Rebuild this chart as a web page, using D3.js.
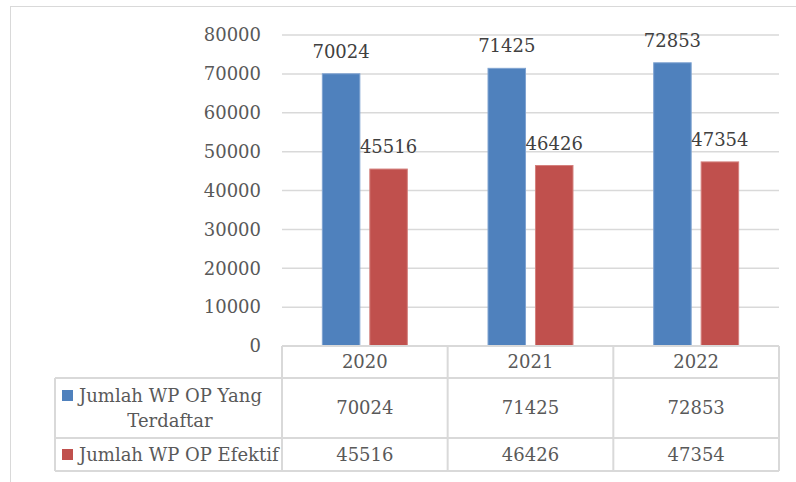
<!DOCTYPE html>
<html>
<head>
<meta charset="utf-8">
<script src="https://d3js.org/d3.v7.min.js"></script>
<style>
  body { margin: 0; background: #fff; }
  svg text { font-family: "DejaVu Serif", serif; font-size: 18px; }
</style>
</head>
<body>
<div id="chart"></div>
<script>
// data
var years = ["2020", "2021", "2022"];
var seriesNames = ["Jumlah WP OP Yang Terdaftar", "Jumlah WP OP Efektif"];
var terdaftar = [70024, 71425, 72853];
var efektif = [45516, 46426, 47354];
var yTicks = [0, 10000, 20000, 30000, 40000, 50000, 60000, 70000, 80000];
var colors = ["#4F81BD", "#C0504D"];

var W = 796, H = 482;
var svg = d3.select("#chart").append("svg").attr("width", W).attr("height", H);

// outer frame
svg.append("rect").attr("x", 10.5).attr("y", 6.5).attr("width", W).attr("height", H)
  .attr("fill", "none").attr("stroke", "#d9d9d9").attr("stroke-width", 1);

var plotL = 282, plotR = 779, plotT = 35, plotB = 346;
var y = d3.scaleLinear().domain([0, 80000]).range([plotB, plotT]);
var x = d3.scaleBand().domain(years).range([plotL, plotR]);
var xs = d3.scaleBand().domain([0, 1]).range([0, x.bandwidth()]).paddingInner(0.21).paddingOuter(0.85);

// gridlines
svg.append("g").selectAll("line").data(yTicks.slice(1)).enter().append("line")
  .attr("x1", plotL).attr("x2", plotR)
  .attr("y1", function (d) { return y(d); }).attr("y2", function (d) { return y(d); })
  .attr("stroke", "#d9d9d9").attr("stroke-width", 1.5);

// y labels
svg.append("g").selectAll("text").data(yTicks).enter().append("text")
  .attr("x", 261).attr("y", function (d) { return y(d); })
  .attr("dy", "0.35em").attr("text-anchor", "end").attr("fill", "#595959")
  .text(function (d) { return d; });

var series = [terdaftar, efektif];
var bars = [];
series.forEach(function (vals, si) {
  vals.forEach(function (v, i) { bars.push({ s: si, year: years[i], value: v }); });
});

svg.append("g").selectAll("rect").data(bars).enter().append("rect")
  .attr("x", function (d) { return x(d.year) + xs(d.s); })
  .attr("y", function (d) { return y(d.value); })
  .attr("width", xs.bandwidth())
  .attr("height", function (d) { return y(0) - y(d.value); })
  .attr("fill", function (d) { return colors[d.s]; })
  .attr("stroke", function (d) { return d.s === 0 ? "#7fa3d1" : "#d4807d"; })
  .attr("stroke-width", 1);

// data labels
svg.append("g").selectAll("text").data(bars).enter().append("text")
  .attr("x", function (d) { return x(d.year) + xs(d.s) + xs.bandwidth() / 2; })
  .attr("y", function (d) { return y(d.value) - 16; })
  .attr("text-anchor", "middle").attr("fill", "#404040")
  .text(function (d) { return d.value; });

// data table
var tableL = 55, rowY = [346, 378, 438, 471];
var grid = svg.append("g").attr("stroke", "#d9d9d9").attr("stroke-width", 2).attr("fill", "none");
// horizontal lines
grid.append("line").attr("x1", plotL).attr("x2", plotR).attr("y1", rowY[0]).attr("y2", rowY[0]);
rowY.slice(1).forEach(function (ry) {
  grid.append("line").attr("x1", tableL).attr("x2", plotR).attr("y1", ry).attr("y2", ry);
});
// vertical lines
grid.append("line").attr("x1", tableL).attr("x2", tableL).attr("y1", rowY[1]).attr("y2", rowY[3]);
[plotL].concat(years.map(function (yr) { return x(yr) + x.bandwidth(); })).forEach(function (vx) {
  grid.append("line").attr("x1", vx).attr("x2", vx).attr("y1", rowY[0]).attr("y2", rowY[3]);
});

// header years
svg.append("g").selectAll("text").data(years).enter().append("text")
  .attr("x", function (d) { return x(d) + x.bandwidth() / 2; })
  .attr("y", (rowY[0] + rowY[1]) / 2).attr("dy", "0.35em")
  .attr("text-anchor", "middle").attr("fill", "#595959")
  .text(function (d) { return d; });

// table values
series.forEach(function (vals, si) {
  var cy = (rowY[si + 1] + rowY[si + 2]) / 2;
  svg.append("g").selectAll("text").data(vals).enter().append("text")
    .attr("x", function (d, i) { return x(years[i]) + x.bandwidth() / 2; })
    .attr("y", cy).attr("dy", "0.35em")
    .attr("text-anchor", "middle").attr("fill", "#595959")
    .text(function (d) { return d; });
});

// legend keys + series names
svg.append("rect").attr("x", 62).attr("y", 390).attr("width", 11).attr("height", 11).attr("fill", colors[0]);
svg.append("text").attr("x", 79).attr("y", 402).attr("fill", "#595959").text("Jumlah WP OP Yang");
svg.append("text").attr("x", 170).attr("y", 427).attr("text-anchor", "middle").attr("fill", "#595959").text("Terdaftar");
svg.append("rect").attr("x", 62).attr("y", 449).attr("width", 11).attr("height", 11).attr("fill", colors[1]);
svg.append("text").attr("x", 79).attr("y", 461).attr("fill", "#595959").text(seriesNames[1]);
</script>
</body>
</html>
